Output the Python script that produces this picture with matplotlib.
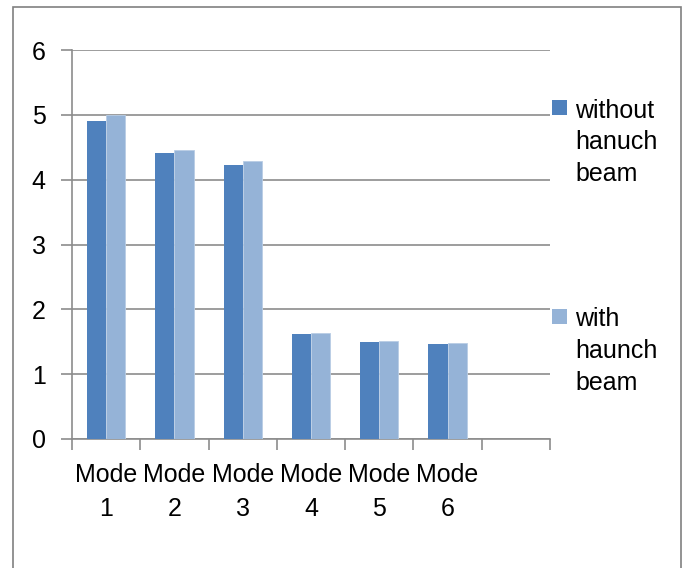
import matplotlib.pyplot as plt
import numpy as np
from matplotlib.patches import Rectangle

plt.rcParams['font.family'] = ['Liberation Sans', 'DejaVu Sans']

modes = ['Mode\n1', 'Mode\n2', 'Mode\n3', 'Mode\n4', 'Mode\n5', 'Mode\n6', '']
without_haunch = [4.91, 4.41, 4.23, 1.615, 1.497, 1.461]
with_haunch = [5.0, 4.465, 4.29, 1.635, 1.517, 1.477]
series_labels = ['without\nhanuch\nbeam', 'with\nhaunch\nbeam']
colors = ['#4F81BD', '#95B3D7']
grid_c = '#8C8C8C'

fig = plt.figure(figsize=(6.86, 5.68), dpi=100)
fig.patches.append(Rectangle((13 / 686, -0.01), (681 - 13) / 686, 1 - 7 / 568 + 0.01,
                             transform=fig.transFigure, fill=False,
                             edgecolor='#808080', linewidth=1.2))
ax = fig.add_axes([72 / 686, 1 - 439 / 568, (550 - 72) / 686, (439 - 50) / 568])

x = np.arange(len(without_haunch))
w = 0.28
ax.bar(x - w / 2, without_haunch, w, color=colors[0], zorder=3)
ax.bar(x + w / 2, with_haunch, w, color=colors[1], edgecolor='#B9CDE5', linewidth=0.6, zorder=3)

ax.set_xlim(-0.5, len(modes) - 0.5)
ax.set_ylim(0, 6)
ax.set_yticks(range(7))
ax.yaxis.grid(True, color=grid_c, linewidth=1.2, zorder=0)
ax.set_xticks(np.arange(len(modes) + 1) - 0.5)
ax.set_xticklabels([])
ax.set_xticks(np.arange(len(modes)), minor=True)
ax.set_xticklabels(modes, minor=True, fontsize=18, linespacing=1.55)
ax.tick_params(axis='x', which='minor', length=0, pad=17)
ax.tick_params(axis='x', which='major', length=8, color=grid_c, width=1.2)
ax.tick_params(axis='y', length=8, color=grid_c, width=1.2, labelsize=18, pad=11)

for s in ['top', 'right']:
    ax.spines[s].set_visible(False)
for s in ['left', 'bottom']:
    ax.spines[s].set_color(grid_c)
    ax.spines[s].set_linewidth(1.2)

# legend drawn by hand so each square lines up with the first text line
leg_y = [107.5, 316.5]
for lab, c, ly in zip(series_labels, colors, leg_y):
    fig.patches.append(Rectangle((552 / 686, 1 - (ly + 7.5) / 568), 15 / 686, 15 / 568,
                                 transform=fig.transFigure, facecolor=c, edgecolor='none'))
    fig.text(575 / 686, 1 - (ly - 9) / 568, lab, fontsize=18, va='top', ha='left',
             linespacing=1.42)

fig.savefig('out.png', dpi=100)
